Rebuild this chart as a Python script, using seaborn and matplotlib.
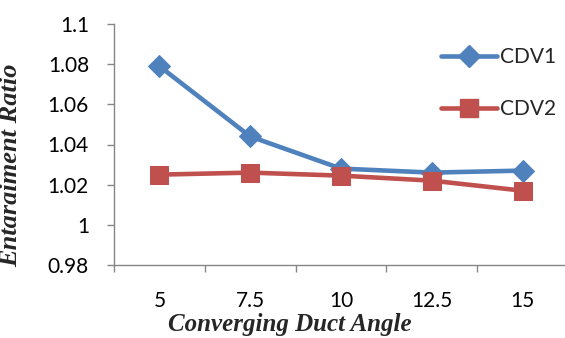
import numpy as np
import pandas as pd
import matplotlib
matplotlib.use("Agg")
import matplotlib.pyplot as plt
import seaborn as sns
from matplotlib.ticker import FixedLocator, FuncFormatter
from matplotlib.lines import Line2D

# data
angles = ["5", "7.5", "10", "12.5", "15"]
cdv1 = [1.079, 1.044, 1.028, 1.026, 1.027]
cdv2 = [1.025, 1.026, 1.0245, 1.022, 1.017]
series_names = ["CDV1", "CDV2"]
colors = ["#4F81BD", "#C0504D"]
yticks = [0.98, 1.0, 1.02, 1.04, 1.06, 1.08, 1.1]

sns.set_style("white")
plt.rcParams["font.family"] = ["Lato", "DejaVu Sans"]

fig = plt.figure(figsize=(5.65, 3.38), dpi=100)
ax = fig.add_axes([114/565, 1-265/338, 454/565, 241/338])

df1 = pd.DataFrame({"angle": np.arange(len(angles)), "ratio": cdv1})
df2 = pd.DataFrame({"angle": np.arange(len(angles)), "ratio": cdv2})
sns.lineplot(data=df1, x="angle", y="ratio", ax=ax, color=colors[0], marker="D",
             markersize=11, markeredgecolor=colors[0], linewidth=3.3)
sns.lineplot(data=df2, x="angle", y="ratio", ax=ax, color=colors[1], marker="s",
             markersize=13.5, markeredgecolor=colors[1], linewidth=3.3)

ax.set_xlim(-0.5, len(angles) - 0.5)
ax.set_ylim(0.98, 1.1)
ax.set_xticks(np.arange(len(angles)))
ax.set_xticklabels(angles)
ax.xaxis.set_minor_locator(FixedLocator(np.arange(len(angles) + 1) - 0.5))
ax.yaxis.set_major_locator(FixedLocator(yticks))
ax.yaxis.set_major_formatter(FuncFormatter(lambda v, p: f"{v:g}"))

gray = "#868686"
for s in ["top", "right"]:
    ax.spines[s].set_visible(False)
for s in ["left", "bottom"]:
    ax.spines[s].set_color(gray)
    ax.spines[s].set_linewidth(1.0)
ax.tick_params(axis="x", which="major", length=0, pad=19, labelsize=15, colors="black")
ax.tick_params(axis="x", which="minor", length=5, width=1, color=gray, direction="out", bottom=True)
ax.tick_params(axis="y", which="major", length=5, width=1, color=gray, direction="out",
               pad=13, labelsize=15, labelcolor="black", left=True)

ax.set_xlabel("Converging Duct Angle", family="Liberation Serif", fontweight="bold",
              fontstyle="italic", fontsize=18)
ax.xaxis.set_label_coords((290-114)/454, -(313-265)/241)
ax.set_ylabel("Entaraiment Ratio", family="Liberation Serif", fontweight="bold",
              fontstyle="italic", fontsize=19)
ax.yaxis.set_label_coords((22-114)/454, (265-165)/241)

handles = [Line2D([], [], color=colors[0], marker="D", markersize=11, lw=3.3, mec=colors[0]),
           Line2D([], [], color=colors[1], marker="s", markersize=13.5, lw=3.3, mec=colors[1])]
leg = ax.legend(handles, series_names, loc="center left",
                bbox_to_anchor=((441-114)/454, (265-83)/241),
                frameon=False, fontsize=15, handlelength=2.7, handletextpad=0.15,
                labelspacing=1.55, borderaxespad=0, borderpad=0)

fig.savefig("out.png", dpi=100)
